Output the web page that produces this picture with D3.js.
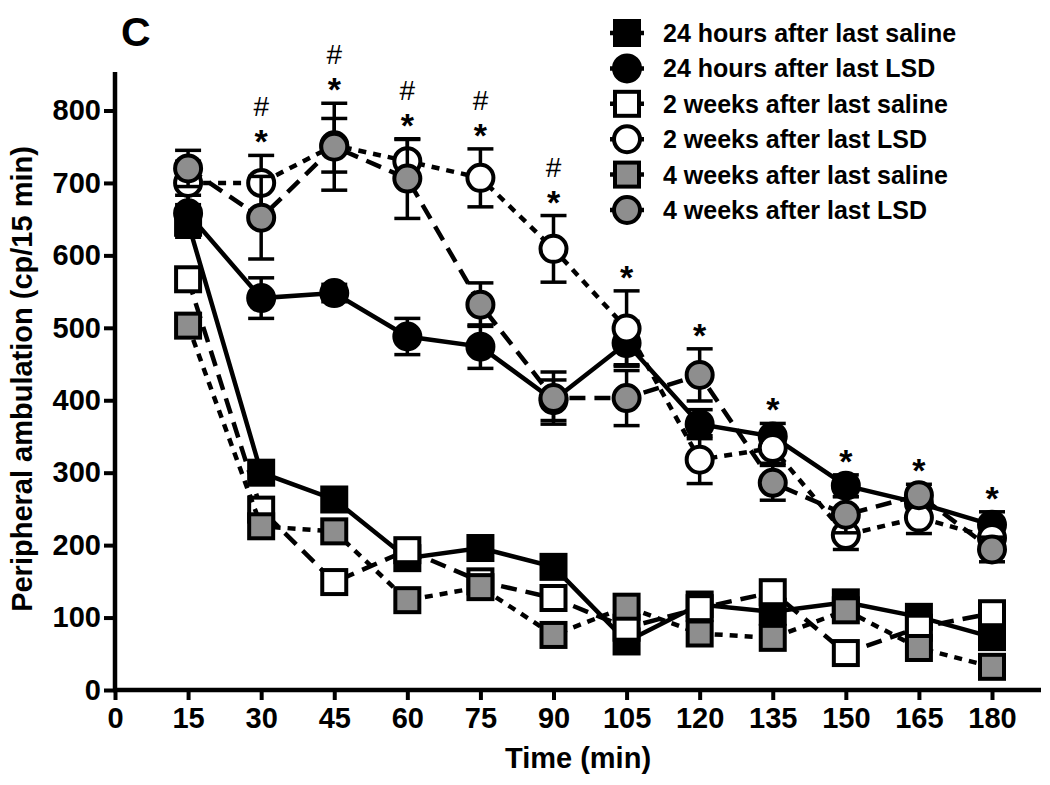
<!DOCTYPE html>
<html>
<head>
<meta charset="utf-8">
<script src="https://cdn.jsdelivr.net/npm/d3@7"></script>
<style>
body { margin: 0; background: #fff; }
svg { font-family: "Liberation Sans", Arial, sans-serif; }
</style>
</head>
<body>
<svg id="chart" width="1050" height="785"></svg>
<script>
// time points (min)
var times = [15, 30, 45, 60, 75, 90, 105, 120, 135, 150, 165, 180];
var xTicks = [0, 15, 30, 45, 60, 75, 90, 105, 120, 135, 150, 165, 180];
var yTicks = [0, 100, 200, 300, 400, 500, 600, 700, 800];

var seriesNames = [
    '24 hours after last saline',
    '24 hours after last LSD',
    '2 weeks after last saline',
    '2 weeks after last LSD',
    '4 weeks after last saline',
    '4 weeks after last LSD'
];

// means
var saline24h = [645, 300, 263, 182, 196, 170, 67, 118, 108, 121, 101, 73];
var lsd24h    = [658, 541, 548, 488, 474, 400, 479, 367, 350, 282, 258, 228];
var saline2w  = [567, 249, 149, 193, 150, 127, 86, 113, 135, 51, 86, 106];
var lsd2w     = [700, 700, 752, 730, 707, 609, 499, 318, 334, 214, 238, 210];
var saline4w  = [503, 226, 219, 124, 142, 76, 115, 78, 72, 110, 58, 32];
var lsd4w     = [720, 652, 750, 706, 532, 403, 403, 435, 286, 242, 269, 194];

// SEM
var saline24hErr = [20, 15, 12, 12, 10, 10, 8, 10, 10, 10, 10, 10];
var lsd24hErr    = [25, 28, 12, 25, 30, 28, 30, 20, 18, 15, 15, 18];
var saline2wErr  = [12, 12, 10, 12, 10, 10, 8, 10, 10, 8, 10, 10];
var lsd2wErr     = [30, 38, 37, 30, 40, 46, 52, 33, 21, 20, 22, 15];
var saline4wErr  = [12, 12, 10, 10, 10, 8, 10, 8, 8, 10, 8, 8];
var lsd4wErr     = [25, 57, 60, 55, 30, 36, 38, 36, 24, 25, 15, 17];

// significance marks
var starTimes = [30, 45, 60, 75, 90, 105, 120, 135, 150, 165, 180];
var hashTimes = [30, 45, 60, 75, 90];

var grey = '#8e8e8e';
var styles = [
    {shape: 'square', fill: '#000', dash: null},
    {shape: 'circle', fill: '#000', dash: null},
    {shape: 'square', fill: '#fff', dash: '16,9'},
    {shape: 'circle', fill: '#fff', dash: '8,7'},
    {shape: 'square', fill: grey, dash: '8,7'},
    {shape: 'circle', fill: grey, dash: '16,9'}
];
var means = [saline24h, lsd24h, saline2w, lsd2w, saline4w, lsd4w];
var errs = [saline24hErr, lsd24hErr, saline2wErr, lsd2wErr, saline4wErr, lsd4wErr];

var svg = d3.select('#chart');
var x = d3.scaleLinear().domain([0, 180]).range([115, 992]);
var y = d3.scaleLinear().domain([0, 800]).range([690, 110.5]);

// axes
var xAxis = svg.append('g')
    .attr('transform', 'translate(0,690)')
    .call(d3.axisBottom(x).tickValues(xTicks).tickSize(10).tickPadding(8));
var yAxis = svg.append('g')
    .attr('transform', 'translate(115,0)')
    .call(d3.axisLeft(y).tickValues(yTicks).tickSize(11).tickPadding(3));

[xAxis, yAxis].forEach(function (g) {
    g.select('.domain').remove();
    g.selectAll('.tick line').attr('stroke', '#000').attr('stroke-width', 4);
    g.selectAll('.tick text')
        .attr('fill', '#000')
        .attr('font-size', 29)
        .attr('font-weight', 'bold')
        .attr('font-family', '"Liberation Sans", Arial, sans-serif');
});
xAxis.selectAll('.tick text').attr('dy', '0.7em');

svg.append('line')
    .attr('x1', 113).attr('x2', 1041).attr('y1', 690).attr('y2', 690)
    .attr('stroke', '#000').attr('stroke-width', 4.5);
svg.append('line')
    .attr('x1', 115).attr('x2', 115).attr('y1', 72).attr('y2', 692)
    .attr('stroke', '#000').attr('stroke-width', 4.5);

// axis titles
svg.append('text')
    .attr('x', 578).attr('y', 768)
    .attr('text-anchor', 'middle')
    .attr('font-size', 29).attr('font-weight', 'bold')
    .text('Time (min)');
svg.append('text')
    .attr('transform', 'translate(32,379) rotate(-90)')
    .attr('text-anchor', 'middle')
    .attr('font-size', 29).attr('font-weight', 'bold')
    .text('Peripheral ambulation (cp/15 min)');
svg.append('text')
    .attr('x', 121).attr('y', 46)
    .attr('font-size', 41).attr('font-weight', 'bold')
    .text('C');

function drawMarker(g, shape, fill, cx, cy) {
    if (shape === 'square') {
        g.append('rect')
            .attr('x', cx - 12).attr('y', cy - 12)
            .attr('width', 24).attr('height', 24)
            .attr('fill', fill).attr('stroke', '#000').attr('stroke-width', 4);
    } else {
        g.append('circle')
            .attr('cx', cx).attr('cy', cy).attr('r', 13)
            .attr('fill', fill).attr('stroke', '#000').attr('stroke-width', 4);
    }
}

var line = d3.line()
    .x(function (d) { return x(d[0]); })
    .y(function (d) { return y(d[1]); });

var plot = svg.append('g');
means.forEach(function (vals, i) {
    var st = styles[i];
    var g = plot.append('g');
    var pts = times.map(function (t, k) { return [t, vals[k]]; });
    g.append('path')
        .attr('d', line(pts))
        .attr('fill', 'none')
        .attr('stroke', '#000')
        .attr('stroke-width', 4.5)
        .attr('stroke-dasharray', st.dash);
    times.forEach(function (t, k) {
        var e = errs[i][k];
        var cx = x(t);
        var top = y(vals[k] + e), bot = y(vals[k] - e);
        g.append('line').attr('x1', cx).attr('x2', cx).attr('y1', top).attr('y2', bot)
            .attr('stroke', '#000').attr('stroke-width', 3.5);
        [top, bot].forEach(function (yy) {
            g.append('line').attr('x1', cx - 13).attr('x2', cx + 13).attr('y1', yy).attr('y2', yy)
                .attr('stroke', '#000').attr('stroke-width', 3.5);
        });
    });
    times.forEach(function (t, k) {
        drawMarker(g, st.shape, st.fill, x(t), y(vals[k]));
    });
});

// significance marks above the highest error bar at each time
function topAt(t) {
    var k = times.indexOf(t);
    return d3.max(means, function (vals, i) { return vals[k] + errs[i][k]; });
}
starTimes.forEach(function (t) {
    var cy = y(topAt(t)) - 21;
    svg.append('text')
        .attr('x', x(t)).attr('y', cy + 19)
        .attr('text-anchor', 'middle')
        .attr('font-size', 34).attr('font-weight', 'bold')
        .text('*');
});
hashTimes.forEach(function (t) {
    var cy = y(topAt(t)) - 49;
    svg.append('text')
        .attr('x', x(t)).attr('y', cy + 10)
        .attr('text-anchor', 'middle')
        .attr('font-size', 28)
        .text('#');
});

// legend
var legend = svg.append('g');
seriesNames.forEach(function (name, i) {
    var st = styles[i];
    var cy = 33 + i * 35.4;
    legend.append('line')
        .attr('x1', 610).attr('x2', 644).attr('y1', cy).attr('y2', cy)
        .attr('stroke', '#000').attr('stroke-width', 4.5);
    drawMarker(legend, st.shape, st.fill, 627, cy);
    legend.append('text')
        .attr('x', 663).attr('y', cy + 9)
        .attr('font-size', 25).attr('font-weight', 'bold')
        .text(name);
});
</script>
</body>
</html>
